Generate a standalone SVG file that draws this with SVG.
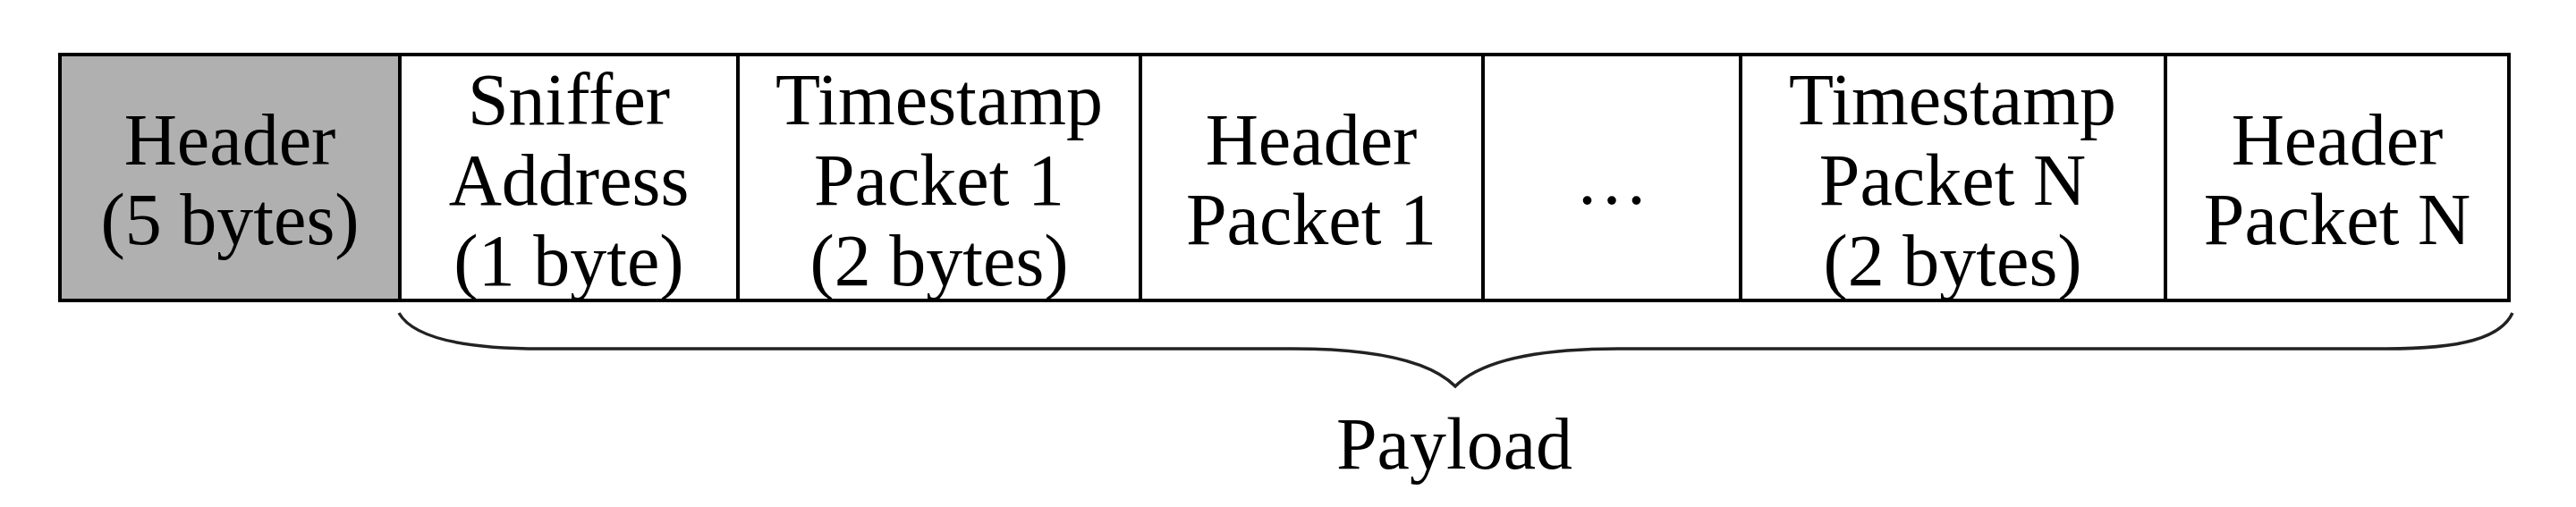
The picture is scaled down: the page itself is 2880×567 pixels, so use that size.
<svg xmlns="http://www.w3.org/2000/svg" width="2880" height="567" viewBox="0 0 2880 567">
<style>
.cell{fill:#ffffff;stroke:#000;stroke-width:4}
.gray{fill:#b0b0b0}
.t{font-family:"Liberation Serif","Times New Roman",serif;font-size:82px;fill:#000;text-anchor:middle}
.brace{fill:none;stroke:#222;stroke-width:3.5}
</style>
<rect x="0" y="0" width="2880" height="567" fill="#ffffff"/>
<g id="header">
<rect class="cell gray" x="67" y="61" width="380" height="275"/>
<text class="t" x="257" y="184">Header</text>
<text class="t" x="257" y="273">(5 bytes)</text>
</g>
<g id="sniffer">
<rect class="cell" x="447" y="61" width="378" height="275"/>
<text class="t" x="636" y="139">Sniffer</text>
<text class="t" x="636" y="229">Address</text>
<text class="t" x="636" y="319">(1 byte)</text>
</g>
<g id="ts1">
<rect class="cell" x="825" y="61" width="450" height="275"/>
<text class="t" x="1050" y="139">Timestamp</text>
<text class="t" x="1050" y="229">Packet 1</text>
<text class="t" x="1050" y="319">(2 bytes)</text>
</g>
<g id="hp1">
<rect class="cell" x="1275" y="61" width="383" height="275"/>
<text class="t" x="1466" y="184">Header</text>
<text class="t" x="1466" y="273">Packet 1</text>
</g>
<g id="dots">
<rect class="cell" x="1658" y="61" width="288" height="275"/>
<text class="t" x="1802" y="228">…</text>
</g>
<g id="tsn">
<rect class="cell" x="1946" y="61" width="475" height="275"/>
<text class="t" x="2183" y="139">Timestamp</text>
<text class="t" x="2183" y="229">Packet N</text>
<text class="t" x="2183" y="319">(2 bytes)</text>
</g>
<g id="hpn">
<rect class="cell" x="2421" y="61" width="384" height="275"/>
<text class="t" x="2613" y="184">Header</text>
<text class="t" x="2613" y="273">Packet N</text>
</g>
<g id="connectors">
<path class="brace" d="M446,350 C462,378 520,390 605,390 L1445,390 C1540,390 1600,405 1627,432 C1654,405 1714,390 1809,390 L2668,390 C2752,390 2796,378 2809,350"/>
</g>
<g id="payload">
<text class="t" x="1626" y="524">Payload</text>
</g>
</svg>
